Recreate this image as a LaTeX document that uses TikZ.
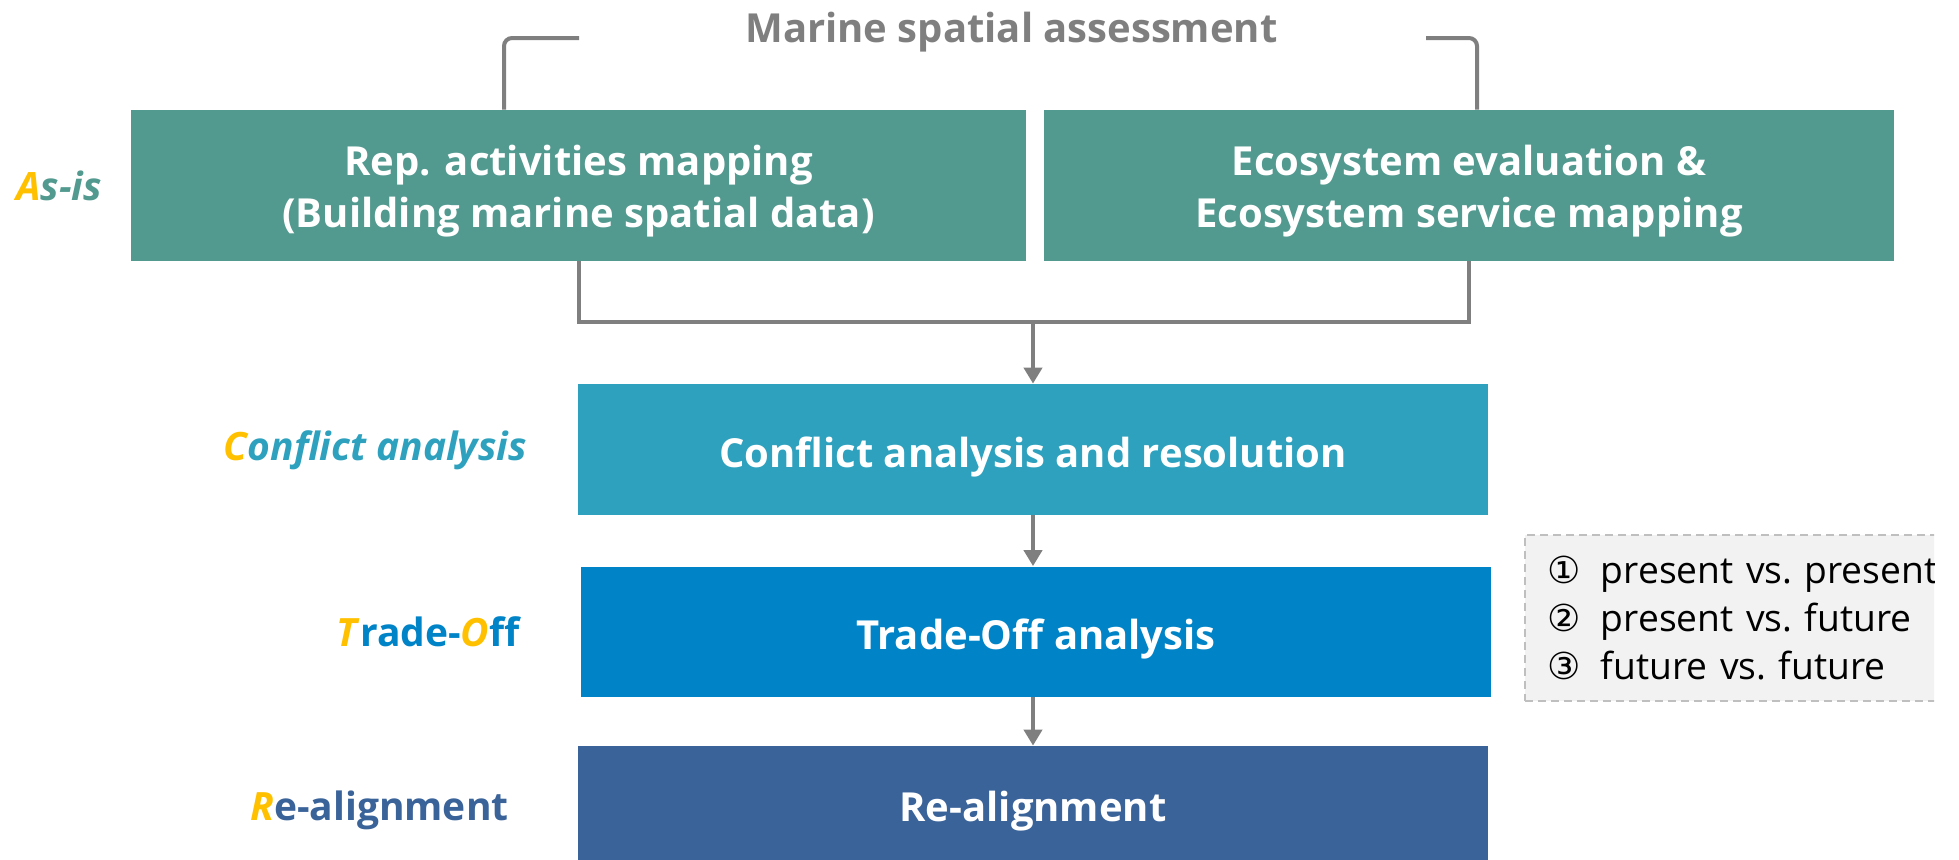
\documentclass[tikz,border=0pt]{standalone}
\usepackage{fontspec}
\setmainfont{Open Sans}
\newfontfamily\symfont{DejaVu Sans}
\usetikzlibrary{arrows.meta}

\definecolor{asis}{HTML}{52998F}
\definecolor{confl}{HTML}{2EA1BE}
\definecolor{tradeoff}{HTML}{0084C7}
\definecolor{realign}{HTML}{3A639A}
\definecolor{accent}{HTML}{FFC000}
\definecolor{linegray}{HTML}{7F7F7F}
\definecolor{notebg}{HTML}{F2F2F2}
\definecolor{notegray}{HTML}{BFBFBF}
\newcommand{\hl}[1]{\textcolor{accent}{\textit{#1}}}
\newcommand{\topstrut}{\rule{0pt}{20.5pt}}
\newcommand{\botstrut}{\rule[-5pt]{0pt}{0pt}}

\begin{document}
\begin{tikzpicture}[x=0.5pt,y=-0.5pt,
    stagebox/.style={fill=#1,text=white,inner sep=0pt,align=center,font=\bfseries\fontsize{20}{26}\selectfont},
    oneline/.style={text height=22.5pt,text depth=5pt},
    stagelabel/.style={text=#1,inner sep=0pt,anchor=base east,font=\bfseries\fontsize{19.5}{24}\selectfont},
    conn/.style={draw=linegray,line width=2pt},
    flow/.style={conn,-{Triangle[length=8pt,width=9pt]}}]
\useasboundingbox (0,0) rectangle (1959,859);

% title and bracket
\node (title) at (1011.5,42) [anchor=base,inner sep=0pt,text=linegray,font=\bfseries\fontsize{20}{24}\selectfont] {Marine spatial assessment};

% stage boxes
\node (rep) at (578.5,185.5) [stagebox=asis,minimum width=447.5pt,minimum height=75.5pt] {\topstrut Rep. activities mapping\\(Building marine spatial data)\botstrut};
\node (eco) at (1469,185.5) [stagebox=asis,minimum width=425pt,minimum height=75.5pt] {\topstrut Ecosystem evaluation \&\\Ecosystem service mapping\botstrut};
\node (confl) at (1033,449.5) [stagebox=confl,oneline,minimum width=455pt,minimum height=65.5pt] {Conflict analysis and resolution};
\node (trade) at (1036,631.5) [stagebox=tradeoff,oneline,minimum width=455pt,minimum height=65pt] {Trade-Off analysis};
\node (realign) at (1033,803.5) [stagebox=realign,oneline,minimum width=455pt,minimum height=57.5pt] {Re-alignment};

% stage labels
\node (lasis) at (16,200) [stagelabel=asis,anchor=base west] {\textit{\hl{A}s-is}};
\node (lconfl) at (527,460) [stagelabel=confl] {\textit{\hl{C}onflict analysis}};
\node (ltrade) at (520,646) [stagelabel=tradeoff] {\hl{T}rade-\hl{O}ff};
\node (lrealign) at (509,820) [stagelabel=realign] {\hl{R}e-alignment};

% bracket
\coordinate (bl) at (579,38);
\coordinate (blc) at (504,38);
\coordinate (br) at (1426,38);
\coordinate (brc) at (1477,38);
\draw[conn,rounded corners=4pt] (bl) -- (blc) -- (blc |- rep.north);
\draw[conn,rounded corners=4pt] (br) -- (brc) -- (brc |- eco.north);

% connectors
\coordinate (merge) at (1033,322);
\draw[conn] (rep.south) -- (rep.south |- merge) -- (eco.south |- merge) -- (eco.south);
\draw[flow] (merge) -- (confl.north);
\draw[flow] (confl.south) -- (confl.south |- trade.north);
\draw[flow] (trade.south -| confl.south) -- (confl.south |- realign.north);

% trade-off note
\begin{scope}
  \clip (0,0) rectangle (1934,859);
  \node (note) at (1524,534) [anchor=north west,fill=notebg,draw=notegray,dash pattern=on 4pt off 2.5pt,line width=0.75pt,
        minimum height=83pt,text width=250pt,inner xsep=11.5pt,align=left,font=\fontsize{18.6}{24}\selectfont\frenchspacing]
        {{\symfont ①}\hspace{0.2em} present vs. present\\{\symfont ②}\hspace{0.2em} present vs. future\\{\symfont ③}\hspace{0.2em} future vs. future};
\end{scope}

\end{tikzpicture}
\end{document}
